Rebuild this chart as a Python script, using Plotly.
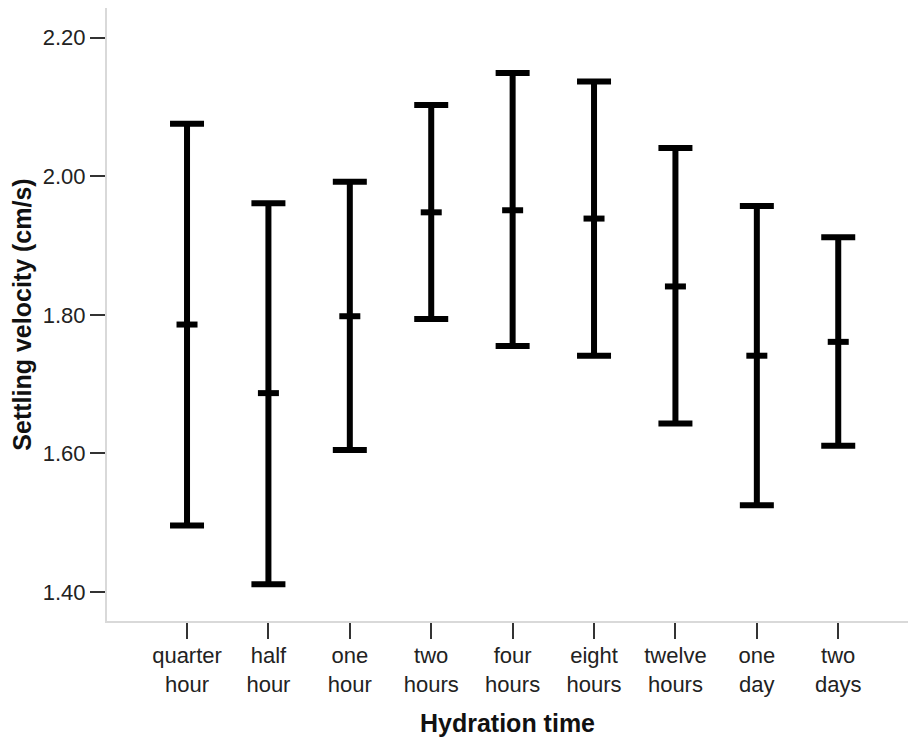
import plotly.graph_objects as go

categories = ["quarter<br>hour", "half<br>hour", "one<br>hour", "two<br>hours", "four<br>hours",
              "eight<br>hours", "twelve<br>hours", "one<br>day", "two<br>days"]
means = [1.786, 1.687, 1.798, 1.948, 1.951, 1.939, 1.841, 1.741, 1.761]
upper = [2.076, 1.961, 1.992, 2.103, 2.149, 2.137, 2.041, 1.957, 1.912]
lower = [1.496, 1.411, 1.605, 1.794, 1.755, 1.741, 1.643, 1.525, 1.611]
y_ticks = [1.40, 1.60, 1.80, 2.00, 2.20]

err_plus = [u - m for u, m in zip(upper, means)]
err_minus = [m - l for m, l in zip(means, lower)]
xi = list(range(len(categories)))

fig = go.Figure()
fig.add_trace(go.Scatter(
    x=xi, y=means, mode="markers",
    marker=dict(symbol="line-ew", size=15, color="black",
                line=dict(color="black", width=6)),
    error_y=dict(type="data", symmetric=False, array=err_plus, arrayminus=err_minus,
                 color="black", thickness=6, width=17),
    showlegend=False, hoverinfo="skip",
))

fig.update_layout(
    width=908, height=737,
    margin=dict(l=107, r=0, t=8, b=116),
    paper_bgcolor="white", plot_bgcolor="white",
    font=dict(family="Arial, Liberation Sans, sans-serif", color="#222"),
    xaxis=dict(
        range=[-0.983, 8.857], tickmode="array", tickvals=xi, ticktext=categories,
        showline=True, linecolor="#d9d9d9", linewidth=2,
        ticks="outside", ticklen=16, tickwidth=2, tickcolor="#333",
        ticklabelstandoff=-2,
        showgrid=False, zeroline=False,
        tickfont=dict(size=22, color="#222"),
        title=dict(text="<b>Hydration time</b>", font=dict(size=25, color="#111"), standoff=19),
    ),
    yaxis=dict(
        range=[1.358, 2.243], tickmode="array", tickvals=y_ticks,
        ticktext=[f"{v:.2f}" for v in y_ticks],
        showline=True, linecolor="#d9d9d9", linewidth=2,
        ticks="outside", ticklen=15, tickwidth=2, tickcolor="#333",
        showgrid=False, zeroline=False,
        tickfont=dict(size=22, color="#222"),
        title=dict(text="<b>Settling velocity (cm/s)</b>", font=dict(size=25, color="#111"), standoff=4),
    ),
)

fig.write_html("out.html")
